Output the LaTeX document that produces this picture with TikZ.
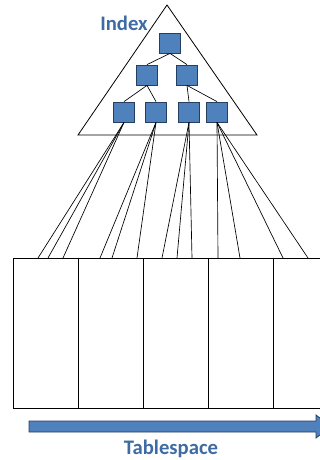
\documentclass[tikz,border=0pt]{standalone}
\usepackage{fontspec}
\setsansfont{Carlito}
\usepackage{xcolor}
\usepackage{tikz}
\usetikzlibrary{positioning}
\definecolor{ixFill}{HTML}{4F81BD}
\definecolor{ixEdge}{HTML}{243F60}
\definecolor{ixText}{HTML}{3D6BA3}
\tikzset{
  ix diagram/.style={font=\sffamily\bfseries, line join=miter},
  ix key/.style={draw=ixEdge, fill=ixFill, line width=0.6pt,
    minimum width=15.5pt, minimum height=15pt, inner sep=0pt},
  ix link/.style={draw=black, line width=0.5pt},
  ix page/.style={draw=black, line width=0.75pt},
  ix title/.style={font=\fontsize{15.5}{18}\sffamily\bfseries, text=ixText},
  ix arrow/.style={draw=ixEdge, fill=ixFill, line width=0.6pt}
}
\begin{document}
\begin{tikzpicture}[ix diagram,x=0.75pt,y=-0.75pt]
\useasboundingbox (0,0) rectangle (320,460);
% index tree
\draw[line width=0.6pt] (167,5) -- (257,135) -- (78,135) -- cycle;
\node[ix title] (idx) at (124,23) {Index};
\node[ix key] (root) at (170,43) {};
\node[ix key] (ka) at (147,75) {};
\node[ix key] (kb) at (187,75) {};
\node[ix key] (kaa) at (124,112) {};
\node[ix key] (kab) at (156,112) {};
\node[ix key] (kba) at (189,112) {};
\node[ix key] (kbb) at (217,112) {};
\draw[ix link] (root.south) -- (ka.north);
\draw[ix link] (root.south) -- (kb.north);
\draw[ix link] (ka.south) -- (kaa.north);
\draw[ix link] (ka.south) -- (kab.north);
\draw[ix link] (kb.south) -- (kba.north);
\draw[ix link] (kb.south) -- (kbb.north);
% pages of the tablespace
\foreach \x/\w in {13/78,78/143,143/208,208/273}
  \draw[ix page] (\x,258) rectangle (\w,408);
\draw[ix page] (273,258) -- (320,258);
\draw[ix page] (273,408) -- (320,408);
% leaf entries pointing at rows
\foreach \i/\x in {1/38,2/48,3/63,4/100,5/112,6/137,7/162,8/177,9/192,10/218,11/240,12/283,13/308}
  \coordinate (row\i) at (\x,258);
\foreach \i in {1,2,3}
  \draw[ix link] (kaa.south) -- (row\i);
\foreach \i in {4,5,6}
  \draw[ix link] (kab.south) -- (row\i);
\foreach \i in {7,8,9}
  \draw[ix link] (kba.south) -- (row\i);
\foreach \i in {10,11,12,13}
  \draw[ix link] (kbb.south) -- (row\i);
% scan direction
\draw[ix arrow] (29,421) -- (316,421) -- (316,415) -- (331,426.5)
  -- (316,438) -- (316,432) -- (29,432) -- cycle;
\node[ix title] (ts) at (171,449) {Tablespace};
\end{tikzpicture}
\end{document}
